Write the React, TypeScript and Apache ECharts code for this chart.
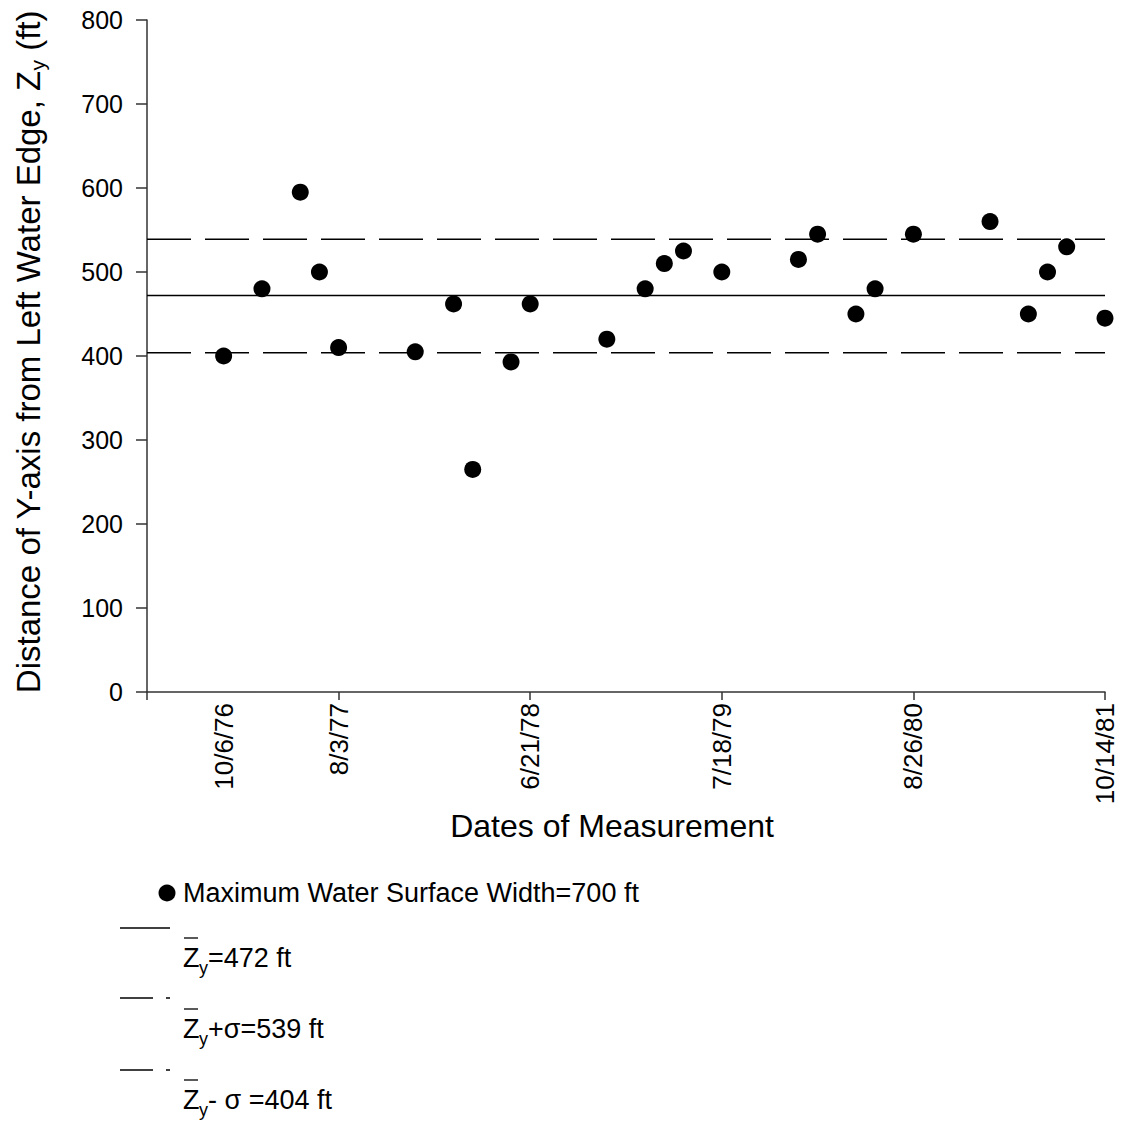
import React, { useEffect, useRef } from "react";
import * as echarts from "echarts";

const FONT = "'Liberation Sans', Arial, Helvetica, sans-serif";

// x positions (measurement sequence scale) and measured distances Zy (ft)
const X_POS = [4, 6, 8, 9, 10, 14, 16, 17, 19, 20, 24, 26, 27, 28, 30, 34, 35, 37, 38, 40, 44, 46, 47, 48, 50];
const Z_VALUES = [400, 480, 595, 500, 410, 405, 462, 265, 393, 462, 420, 480, 510, 525, 500, 515, 545, 450, 480, 545, 560, 450, 500, 530, 445];

const TICK_POS = [4, 10, 20, 30, 40, 50];
const TICK_LABELS = ["10/6/76", "8/3/77", "6/21/78", "7/18/79", "8/26/80", "10/14/81"];

const X_RANGE = [0, 50];
const MEAN = 472;
const PLUS_SIGMA = 539;
const MINUS_SIGMA = 404;

const LEGEND_POINT = "Maximum Water Surface Width=700 ft";
const LEGEND_MEAN = "=472 ft";
const LEGEND_PLUS = "+\u03c3=539 ft";
const LEGEND_MINUS = "- \u03c3 =404 ft";

function zRow(rest: string, cy: number) {
  return [
    { type: "line", shape: { x1: 184, y1: cy - 20, x2: 198, y2: cy - 20 }, style: { stroke: "#000", lineWidth: 1.3 } },
    { type: "text", x: 183, y: cy, style: { text: "Z", font: `27px ${FONT}`, fill: "#000", verticalAlign: "middle", align: "left" } },
    { type: "text", x: 199, y: cy + 10, style: { text: "y", font: `18px ${FONT}`, fill: "#000", verticalAlign: "middle", align: "left" } },
    { type: "text", x: 208, y: cy, style: { text: rest, font: `27px ${FONT}`, fill: "#000", verticalAlign: "middle", align: "left" } },
  ];
}

function hLine(value: number, dashed: boolean, name: string) {
  return {
    name,
    type: "line",
    data: [[X_RANGE[0], value], [X_RANGE[1], value]],
    showSymbol: false,
    symbol: "none",
    silent: true,
    z: 1,
    lineStyle: { color: "#000", width: 1.5, type: dashed ? [44, 14] : "solid" },
  };
}

export default function App() {
  const ref = useRef<HTMLDivElement>(null);
  useEffect(() => {
    const chart = echarts.init(ref.current!, null, { renderer: "svg" });
    const labelMap: Record<number, string> = {};
    TICK_POS.forEach((p, i) => (labelMap[p] = TICK_LABELS[i]));
    chart.setOption({
      animation: false,
      backgroundColor: "#fff",
      grid: { left: 147, top: 20, width: 958, height: 672, containLabel: false },
      xAxis: {
        type: "value",
        min: X_RANGE[0],
        max: X_RANGE[1],
        interval: 10,
        axisLine: { show: true, lineStyle: { color: "#333", width: 1.5 } },
        axisTick: { show: true, length: 8, inside: false, lineStyle: { color: "#333", width: 1.5 }, customValues: [0, 10, 20, 30, 40, 50] },
        splitLine: { show: false },
        axisLabel: {
          customValues: TICK_POS,
          rotate: 90,
          margin: 11,
          fontSize: 26,
          fontFamily: FONT,
          color: "#000",
          formatter: (v: number) => labelMap[v] ?? "",
        },
      },
      yAxis: {
        type: "value",
        min: 0,
        max: 800,
        interval: 100,
        axisLine: { show: true, lineStyle: { color: "#333", width: 1.5 } },
        axisTick: { show: true, length: 11, inside: false, lineStyle: { color: "#333", width: 1.5 } },
        splitLine: { show: false },
        axisLabel: { margin: 24, fontSize: 25, fontFamily: FONT, color: "#000" },
      },
      series: [
        hLine(MEAN, false, "mean"),
        hLine(PLUS_SIGMA, true, "plus"),
        hLine(MINUS_SIGMA, true, "minus"),
        {
          name: "points",
          type: "scatter",
          data: X_POS.map((x, i) => [x, Z_VALUES[i]]),
          symbol: "circle",
          symbolSize: 17,
          itemStyle: { color: "#000", opacity: 1 },
          z: 3,
        },
      ],
      graphic: [
        {
          type: "text",
          x: 612,
          y: 826,
          style: { text: "Dates of Measurement", font: `32px ${FONT}`, fill: "#000", align: "center", verticalAlign: "middle" },
        },
        {
          type: "text",
          x: 28,
          y: 352,
          rotation: Math.PI / 2,
          style: {
            text: "{a|Distance of Y-axis from Left Water Edge, Z}{s|y}{a| (ft)}",
            align: "center",
            verticalAlign: "middle",
            fill: "#000",
            rich: {
              a: { fontSize: 33, fontFamily: FONT, lineHeight: 40, fill: "#000" },
              s: { fontSize: 21, fontFamily: FONT, lineHeight: 21, verticalAlign: "bottom", fill: "#000" },
            },
          },
        },
        { type: "circle", shape: { cx: 167, cy: 893, r: 8.5 }, style: { fill: "#000" } },
        { type: "text", x: 183, y: 893, style: { text: LEGEND_POINT, font: `27px ${FONT}`, fill: "#000", verticalAlign: "middle", align: "left" } },
        { type: "line", shape: { x1: 120, y1: 928, x2: 170, y2: 928 }, style: { stroke: "#000", lineWidth: 1.5 } },
        ...zRow(LEGEND_MEAN, 958),
        { type: "line", shape: { x1: 120, y1: 998, x2: 153, y2: 998 }, style: { stroke: "#000", lineWidth: 1.5 } },
        { type: "line", shape: { x1: 166, y1: 998, x2: 170, y2: 998 }, style: { stroke: "#000", lineWidth: 1.5 } },
        ...zRow(LEGEND_PLUS, 1029),
        { type: "line", shape: { x1: 120, y1: 1070, x2: 153, y2: 1070 }, style: { stroke: "#000", lineWidth: 1.5 } },
        { type: "line", shape: { x1: 166, y1: 1070, x2: 170, y2: 1070 }, style: { stroke: "#000", lineWidth: 1.5 } },
        ...zRow(LEGEND_MINUS, 1100),
      ],
    });
    return () => chart.dispose();
  }, []);
  return <div ref={ref} style={{ position: "absolute", left: 0, top: 0, width: 1121, height: 1129 }} />;
}
